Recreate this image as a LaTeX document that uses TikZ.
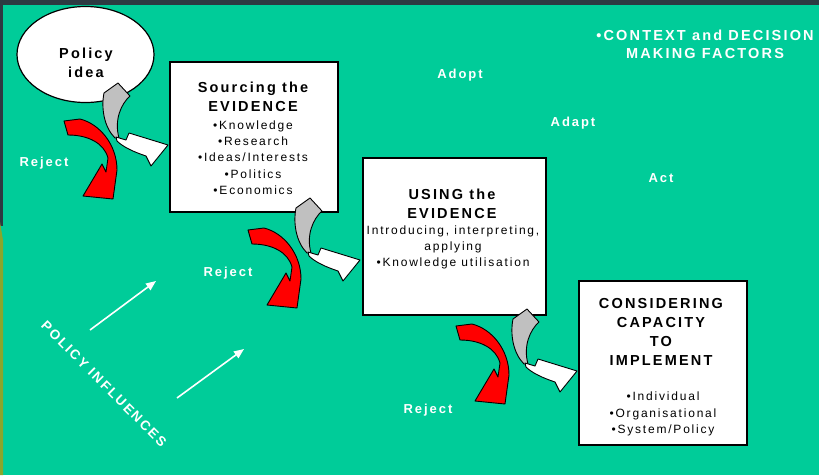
\documentclass[tikz,border=0pt]{standalone}
\usepackage{fontspec}
\setmainfont{Liberation Sans}
\newfontfamily\spfont{Liberation Sans}[LetterSpace=15]
\usetikzlibrary{shapes.geometric,arrows.meta}
\definecolor{bggreen}{RGB}{0,204,153}
\definecolor{darkband}{RGB}{45,58,66}
\definecolor{olivestrip}{RGB}{138,166,43}
\definecolor{greyarr}{RGB}{192,192,192}
\tikzset{
  boxn/.style={draw=black, fill=white, line width=1.2pt, inner sep=0pt},
  wlab/.style={text=white, font=\spfont\bfseries\fontsize{13}{15}\selectfont, inner sep=0pt},
  ttl/.style={text=black, font=\spfont\bfseries\fontsize{14.5}{19}\selectfont, align=center, inner sep=0pt},
  bul/.style={text=black, font=\spfont\fontsize{12}{16.3}\selectfont, align=center, inner sep=0pt},
  shp/.style={draw=black, line width=0.9pt, line join=round},
  infl/.style={draw=white, line width=1.6pt, -{Triangle[length=10pt,width=8pt]}},
  pics/redturn/.style={code={
    \path[shp, fill=red] (64,121) -- (80,119) .. controls (100,124) and (117,145) .. (117,170)
      -- (113,199) -- (83,196) -- (102,164) -- (106,172) -- (108,158)
      .. controls (104,143) and (88,135) .. (68,135) -- cycle;
  }},
  pics/greyturn/.style={code={
    \path[shp, fill=greyarr] (104,93) -- (118,83) -- (130,96) .. controls (121,104) and (114,120) .. (119,138)
      -- (115,138) .. controls (104,127) and (101,108) .. (104,93) -- cycle;
    \path[shp, fill=white] (116,137) -- (126,140) -- (129,133) -- (168,145) -- (151,166) -- (146,156)
      .. controls (134,152) and (123,147) .. (117,141) -- cycle;
  }},
}
\begin{document}
\begin{tikzpicture}[x=1pt, y=-1pt]
\useasboundingbox (0,0) rectangle (819,475);
% background
\fill[bggreen] (0,0) rectangle (819,475);
\fill[darkband] (0,0) rectangle (819,5);
\fill[darkband] (0,5) rectangle (3,226);
\fill[olivestrip] (0,222) -- (3,240) -- (3,475) -- (0,475) -- cycle;

% policy idea
\node[ellipse, draw=black, fill=white, line width=1.2pt, minimum width=137pt, minimum height=96pt] (pi) at (85.5,54.5) {};
\node[ttl] (pit) at (86,63) {Policy\\idea};

% boxes
\node[boxn, minimum width=168pt, minimum height=150pt] (b1) at (254,137) {};
\node[boxn, minimum width=183pt, minimum height=157pt] (b2) at (454.5,236.5) {};
\node[boxn, minimum width=168pt, minimum height=164pt] (b3) at (663,363) {};

\node[ttl] (b1t) at (253,97) {Sourcing the\\EVIDENCE};
\node[bul] (b1b) at (253,157.5) {•Knowledge\\•Research\\•Ideas/Interests\\•Politics\\•Economics};
\node[ttl] (b2t) at (452,203.5) {USING the\\EVIDENCE};
\node[bul] (b2b) at (453,247.5) {Introducing, interpreting,\\applying\\•Knowledge utilisation};
\node[ttl] (b3t) at (661,331.5) {CONSIDERING\\CAPACITY\\TO\\IMPLEMENT};
\node[bul] (b3b) at (663,414) {•Individual\\•Organisational\\•System/Policy};

% curved arrows
\path (0,0) pic {redturn};
\path (184,109) pic {redturn};
\path (392,205) pic {redturn};
\path (0,0) pic {greyturn};
\path (192,115) pic {greyturn};
\path (409,226) pic {greyturn};

% white labels
\node[wlab] (r1) at (44,163) {Reject};
\node[wlab] (r2) at (228,273) {Reject};
\node[wlab] (r3) at (428,410) {Reject};
\node[wlab] (adopt) at (460,75) {Adopt};
\node[wlab] (adapt) at (573,123) {Adapt};
\node[wlab] (act) at (661,178) {Act};
\node[wlab, font=\spfont\bfseries\fontsize{14.5}{18.5}\selectfont, align=center] (ctx) at (705,44.5) {•CONTEXT and DECISION\\MAKING FACTORS};
\node[wlab, font=\spfont\bfseries\fontsize{13.5}{16}\selectfont, rotate=-45] (pinf) at (104,384) {POLICY INFLUENCES};

% influence arrows
\coordinate (i1s) at (90,330);
\coordinate (i1e) at (156,281);
\coordinate (i2s) at (177,398);
\coordinate (i2e) at (244,349);
\draw[infl] (i1s) -- (i1e);
\draw[infl] (i2s) -- (i2e);
\end{tikzpicture}
\end{document}
